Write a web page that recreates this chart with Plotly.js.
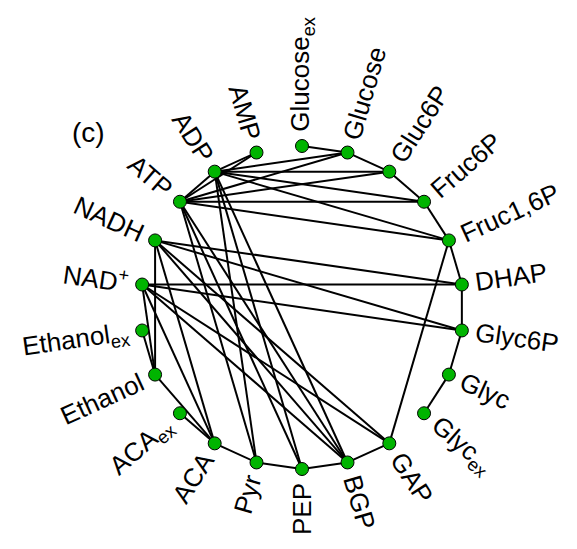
<!DOCTYPE html>
<html>
<head>
<meta charset="utf-8">
<script src="https://cdn.plot.ly/plotly-3.0.1.min.js"></script>
<style>html,body{margin:0;padding:0;background:#fff;}#chart{width:577px;height:549px;}</style>
</head>
<body>
<div id="chart"></div>
<script>
// ---- data ----
const nodeIds = ['Glucose_ex','Glucose','Gluc6P','Fruc6P','Fruc1,6P','DHAP','Glyc6P','Glyc','Glyc_ex','GAP','BGP','PEP','Pyr','ACA','ACA_ex','Ethanol','Ethanol_ex','NAD+','NADH','ATP','ADP','AMP'];
const nodeLabels = ['Glucose<sub>ex</sub>','Glucose','Gluc6P','Fruc6P','Fruc1,6P','DHAP','Glyc6P','Glyc','Glyc<sub>ex</sub>','GAP','BGP','PEP','Pyr','ACA','ACA<sub>ex</sub>','Ethanol','Ethanol<sub>ex</sub>','NAD<sup>+</sup>','NADH','ATP','ADP','AMP'];
const edgeFrom = ['Glucose_ex','Glucose','Glucose','Glucose','Gluc6P','Gluc6P','Gluc6P','Fruc6P','Fruc6P','Fruc6P','Fruc1,6P','Fruc1,6P','Fruc1,6P','Fruc1,6P','DHAP','DHAP','DHAP','Glyc6P','Glyc6P','Glyc6P','Glyc','GAP','GAP','GAP','BGP','BGP','BGP','BGP','BGP','PEP','PEP','PEP','Pyr','Pyr','Pyr','ACA','ACA','ACA','ACA','Ethanol','Ethanol','Ethanol','ATP','ATP','ADP'];
const edgeTo   = ['Glucose','Gluc6P','ATP','ADP','ATP','ADP','Fruc6P','Fruc1,6P','ATP','ADP','ATP','ADP','DHAP','GAP','Glyc6P','NADH','NAD+','NADH','NAD+','Glyc','Glyc_ex','BGP','NADH','NAD+','NADH','NAD+','PEP','ADP','ATP','Pyr','ADP','ATP','ADP','ATP','ACA','ACA_ex','Ethanol','NADH','NAD+','Ethanol_ex','NADH','NAD+','ADP','AMP','AMP'];
const panelLabel = '(c)';

// ---- layout constants ----
const W = 577, H = 549;
const CX = 302, CY = 307.5, R = 161.5, RMAX = 1.1;
const FONT = '"Liberation Sans", Arial, sans-serif';
const FS = 26;

const traces = [];
for (let k = 0; k < edgeFrom.length; k++) {
  traces.push({
    type: 'scatterpolar', mode: 'lines',
    theta: [edgeFrom[k], edgeTo[k]], r: [1, 1],
    line: {color: '#000', width: 2},
    hoverinfo: 'skip', cliponaxis: false, showlegend: false
  });
}
traces.push({
  type: 'scatterpolar', mode: 'markers',
  theta: nodeIds, r: nodeIds.map(() => 1),
  marker: {size: 13, color: '#00b400', line: {color: '#000', width: 1}},
  cliponaxis: false, showlegend: false, hoverinfo: 'text', text: nodeIds
});

// text width measurement for label placement
const ctx = document.createElement('canvas').getContext('2d');
function textWidth(html, fs) {
  let w = 0;
  const re = /<(sub|sup)>(.*?)<\/\1>/g;
  let last = 0, m;
  while ((m = re.exec(html)) !== null) {
    ctx.font = fs + 'px ' + FONT;
    w += ctx.measureText(html.slice(last, m.index)).width;
    ctx.font = (fs * 0.7) + 'px ' + FONT;
    w += ctx.measureText(m[2]).width;
    last = re.lastIndex;
  }
  ctx.font = fs + 'px ' + FONT;
  w += ctx.measureText(html.slice(last)).width;
  return w;
}

const annotations = [];
const N = nodeIds.length;
nodeLabels.forEach((lab, i) => {
  const th = 90 - i * 360 / N;
  const rad = th * Math.PI / 180;
  const c = Math.cos(rad), s = Math.sin(rad);
  const w = textWidth(lab, FS);
  const d = R + 14 + w / 2;
  const px = CX + d * c, py = CY - d * s;
  let ta = (c > 1e-6 || i === 0) ? -th : 180 - th;
  while (ta > 180) ta -= 360;
  while (ta < -180) ta += 360;
  annotations.push({
    text: lab, xref: 'paper', yref: 'paper', x: px / W, y: 1 - py / H,
    xanchor: 'center', yanchor: 'middle', showarrow: false, textangle: Math.round(ta * 100) / 100,
    font: {family: FONT, size: FS, color: '#000'}
  });
});
annotations.push({
  text: panelLabel, xref: 'paper', yref: 'paper', x: 88 / W, y: 1 - 133 / H,
  xanchor: 'center', yanchor: 'middle', showarrow: false,
  font: {family: FONT, size: 28, color: '#000'}
});

const layout = {
  width: W, height: H, margin: {l: 0, r: 0, t: 0, b: 0},
  paper_bgcolor: '#fff', showlegend: false,
  polar: {
    domain: {x: [(CX - R * RMAX) / W, (CX + R * RMAX) / W], y: [1 - (CY + R * RMAX) / H, 1 - (CY - R * RMAX) / H]},
    bgcolor: 'rgba(0,0,0,0)',
    radialaxis: {visible: false, range: [0, RMAX]},
    angularaxis: {type: 'category', categoryorder: 'array', categoryarray: nodeIds,
      direction: 'clockwise', rotation: 90, showline: false, showgrid: false,
      showticklabels: false, ticks: ''}
  },
  annotations: annotations
};

Plotly.newPlot('chart', traces, layout, {displayModeBar: false});
</script>
</body>
</html>
